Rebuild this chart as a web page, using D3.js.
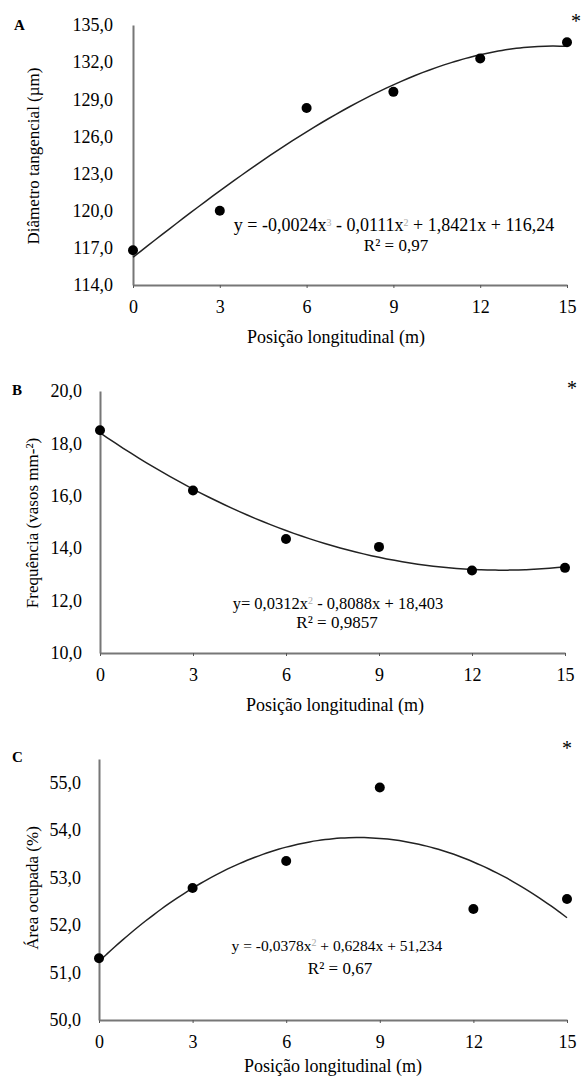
<!DOCTYPE html>
<html>
  <head>
    <meta charset="utf-8" />
    <title>Posição longitudinal</title>
    <script src="https://d3js.org/d3.v7.min.js"></script>
    <style>
      body { margin: 0; background: #fff; }
      text { font-family: "Liberation Serif", "Times New Roman", serif; fill: #000; }
    </style>
  </head>
  <body>
    <svg width="583" height="1079"></svg>

    <script>
      // data
      const posicao = [0, 3, 6, 9, 12, 15];
      const diametro = [116.8, 120.0, 128.3, 129.6, 132.3, 133.6];
      const frequencia = [18.5, 16.2, 14.35, 14.05, 13.15, 13.25];
      const area = [51.3, 52.78, 53.35, 54.9, 52.34, 52.55];

      const xTicks = [0, 3, 6, 9, 12, 15];
      const ticksA = [114, 117, 120, 123, 126, 129, 132, 135];
      const ticksB = [10, 12, 14, 16, 18, 20];
      const ticksC = [50, 51, 52, 53, 54, 55];

      // trend line coefficients (c0 + c1 x + c2 x^2 + c3 x^3), as printed
      const coefA = [116.24, 1.8421, -0.0111, -0.0024];
      const coefB = [18.403, -0.8088, 0.0312];
      const coefC = [51.234, 0.6284, -0.0378];

      const svg = d3.select("svg");
      const fmt = d => d.toFixed(1).replace(".", ",");

      function poly(c, x) {
        return c.reduce((s, k, i) => s + k * Math.pow(x, i), 0);
      }

      function drawPanel(p) {
        const x = d3.scaleLinear().domain([0, 15]).range(p.xr);
        const y = d3.scaleLinear().domain(p.yd).range(p.yr);
        const g = svg.append("g");

        // axes
        const ax = g.append("g")
          .attr("transform", `translate(0,${y(p.yd[0])})`)
          .call(d3.axisBottom(x).tickValues(xTicks).tickSize(3).tickPadding(12).tickSizeOuter(0));
        const ay = g.append("g")
          .attr("transform", `translate(${x(0)},0)`)
          .call(d3.axisLeft(y).tickValues(p.ticks).tickFormat(fmt).tickSize(0).tickPadding(p.ypad));
        [ax, ay].forEach(a => {
          a.select(".domain").attr("stroke", "#777").attr("stroke-width", 2);
          a.selectAll(".tick line").attr("stroke", "#555").attr("stroke-width", 1);
          a.selectAll("text").style("font-size", "18px").attr("fill", "#000")
            .style("font-family", "'Liberation Serif', serif");
        });

        // trend line
        const xs = d3.range(0, 15.01, 0.25);
        g.append("path")
          .datum(xs)
          .attr("fill", "none")
          .attr("stroke", "#222")
          .attr("stroke-width", 1.5)
          .attr("d", d3.line().x(d => x(d)).y(d => y(poly(p.coef, d))).curve(d3.curveBasis));

        // points
        g.selectAll("circle")
          .data(p.values)
          .enter()
          .append("circle")
          .attr("cx", (d, i) => x(posicao[i]))
          .attr("cy", d => y(d))
          .attr("r", 5)
          .attr("fill", "#000");

        // titles
        g.append("text")
          .attr("x", p.xtitle[0]).attr("y", p.xtitle[1])
          .attr("text-anchor", "middle")
          .style("font-size", "18px")
          .text("Posição longitudinal (m)");
        g.append("text")
          .attr("transform", `translate(${p.ytitle[0]},${p.ytitle[1]}) rotate(-90)`)
          .attr("text-anchor", "middle")
          .style("font-size", "17px")
          .text(p.ylabel);
        g.append("text")
          .attr("x", p.letter[0]).attr("y", p.letter[1])
          .style("font-size", "15px").style("font-weight", "bold")
          .text(p.name);
        g.append("text")
          .attr("x", p.star[0]).attr("y", p.star[1])
          .attr("text-anchor", "middle")
          .style("font-size", "20px")
          .text("*");

        // equation
        const eq = g.append("text")
          .attr("x", p.eq[0]).attr("y", p.eq[1])
          .attr("text-anchor", "middle")
          .style("font-size", p.eqSize + "px");
        p.eqParts.forEach(part => {
          const t = eq.append("tspan").text(part[0]);
          if (part[1]) t.attr("baseline-shift", "super").style("font-size", "10px").attr("fill", "#aaa");
        });
        g.append("text")
          .attr("x", p.r2[0]).attr("y", p.r2[1])
          .attr("text-anchor", "middle")
          .style("font-size", "17px")
          .text(p.r2text);
      }

      drawPanel({
        name: "A", values: diametro, coef: coefA, ticks: ticksA,
        xr: [133, 567], yd: [114, 135], yr: [285, 25], ypad: 20,
        ylabel: "Diâmetro tangencial (µm)", ytitle: [39, 156], xtitle: [336, 343],
        letter: [14, 30], star: [576, 28],
        eqParts: [["y = -0,0024x"], ["3", true], [" - 0,0111x"], ["2", true], [" + 1,8421x + 116,24"]],
        eqSize: 18, eq: [394, 231], r2: [396, 251], r2text: "R² = 0,97"
      });

      drawPanel({
        name: "B", values: frequencia, coef: coefB, ticks: ticksB,
        xr: [100, 565], yd: [10, 20], yr: [653, 391], ypad: 18,
        ylabel: "Frequência (vasos mm-²)", ytitle: [38, 523], xtitle: [335, 711],
        letter: [12, 395], star: [572, 395],
        eqParts: [["y= 0,0312x"], ["2", true], [" - 0,8088x + 18,403"]],
        eqSize: 16.5, eq: [338, 609], r2: [337, 628], r2text: "R² = 0,9857"
      });

      drawPanel({
        name: "C", values: area, coef: coefC, ticks: ticksC,
        xr: [99, 567], yd: [50, 55.5], yr: [1020, 759], ypad: 18,
        ylabel: "Área ocupada (%)", ytitle: [38, 888], xtitle: [333, 1072],
        letter: [12, 762], star: [567, 755],
        eqParts: [["y = -0,0378x"], ["2", true], [" + 0,6284x + 51,234"]],
        eqSize: 15.5, eq: [337, 951], r2: [340, 974], r2text: "R² = 0,67"
      });
    </script>
  </body>
</html>
